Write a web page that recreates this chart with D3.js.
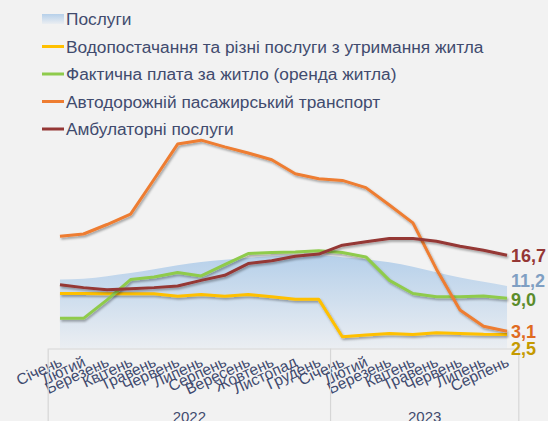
<!DOCTYPE html>
<html><head><meta charset="utf-8">
<script src="https://cdn.jsdelivr.net/npm/d3@7"></script>
<style>
html,body{margin:0;padding:0;background:#f2f2f2;}
svg{display:block;font-family:"Liberation Sans",Arial,sans-serif;}
</style></head>
<body><svg id="c" width="548" height="421"></svg>
<script>
const months = ["Січень","Лютий","Березень","Квітень","Травень","Червень","Липень","Серпень","Вересень","Жовтень","Листопад","Грудень","Січень","Лютий","Березень","Квітень","Травень","Червень","Липень","Серпень"];
const yearLabels = ["2022","2023"];
const yearStartIdx = [0,12];
const yearEndIdx = [11,19];

const seriesNames = ["Послуги","Водопостачання та різні послуги з утримання житла","Фактична плата за житло (оренда житла)","Автодорожній пасажирський транспорт","Амбулаторні послуги"];
const services   = [12.35,12.5,12.95,13.5,14.2,14.9,15.5,15.9,16.25,16.5,16.7,16.7,16.35,16.0,15.45,14.65,13.65,12.7,11.95,11.2];
const water      = [9.85,9.85,9.8,9.8,9.8,9.35,9.65,9.35,9.65,9.25,8.8,8.8,2.1,2.4,2.7,2.5,2.8,2.7,2.55,2.5];
const rent       = [5.4,5.4,8.7,12.35,12.8,13.6,13.0,15.0,17.0,17.2,17.3,17.5,17.2,16.4,12.2,9.85,9.25,9.25,9.4,9.0];
const transport  = [20.1,20.5,22.2,24.05,30.3,36.6,37.3,36.1,35.0,33.8,31.3,30.4,30.1,28.8,25.7,22.5,14.2,6.9,4.0,3.1];
const ambulatory = [11.4,10.9,10.5,10.7,10.9,11.2,12.2,13.1,15.2,15.7,16.5,16.9,18.5,19.1,19.7,19.7,19.2,18.3,17.6,16.7];
const endLabels  = ["11,2","2,5","9,0","3,1","16,7"];

const lineColors  = [null,"#ffc000","#8fcb4c","#ee7d31","#953735"];
const labelColors = ["#7f9fc3","#c59a00","#5b8c2b","#e06b1f","#953735"];
const labelShift  = [-5,14,1,0.5,0];

const svg = d3.select("#c");
const defs = svg.append("defs");
const grad = defs.append("linearGradient").attr("id","ag").attr("x1",0).attr("y1",0).attr("x2",0).attr("y2",1);
grad.append("stop").attr("offset",0).attr("stop-color","#b6d0ea");
grad.append("stop").attr("offset",1).attr("stop-color","#ebeef2");
const sh = defs.append("filter").attr("id","sh").attr("x","-10%").attr("y","-10%").attr("width","120%").attr("height","130%");
sh.append("feDropShadow").attr("dx",1.2).attr("dy",1.8).attr("stdDeviation",1).attr("flood-color","#000").attr("flood-opacity",0.35);

const x = d3.scaleBand().domain(d3.range(months.length)).range([48.2,518.8]).padding(0);
const cx = i => x(i) + x.bandwidth()/2;
const y = d3.scaleLinear().domain([0,40]).range([348.5,348.5-40*5.585]);

// area
const area = d3.area().x((d,i)=>cx(i)).y0(y(0)).y1(d=>y(d)).curve(d3.curveMonotoneX);
svg.append("path").datum(services).attr("d",area).attr("fill","url(#ag)");

// axis
const axisG = svg.append("g").attr("transform",`translate(0,${y(0)})`)
  .call(d3.axisBottom(x).tickSize(0).tickSizeOuter(0).tickFormat(i=>months[i]));
axisG.select(".domain").attr("stroke","#d6d6d6").attr("stroke-width",1.2);
axisG.selectAll(".tick text")
  .attr("fill","#3f4a6e").attr("font-size",15.5)
  .attr("text-anchor","end").attr("dy",null).attr("y",0)
  .attr("transform","translate(3,17) rotate(-25)");

// separators
const sepX = [x(yearStartIdx[0]), x(yearStartIdx[1]), x(yearEndIdx[1])+x.bandwidth()];
svg.selectAll("line.sep").data(sepX).enter().append("line")
  .attr("x1",d=>d).attr("x2",d=>d).attr("y1",y(0)).attr("y2",421)
  .attr("stroke","#d6d6d6").attr("stroke-width",1.2);
svg.selectAll("text.yr").data(yearLabels).enter().append("text")
  .attr("x",(d,k)=>(x(yearStartIdx[k])+x(yearEndIdx[k])+x.bandwidth())/2)
  .attr("y",422).attr("text-anchor","middle").attr("font-size",15).attr("fill","#3f4a6e").text(d=>d);

// lines
const line = d3.line().x((d,i)=>cx(i)).y(d=>y(d));
const lineSeries = [water, rent, transport, ambulatory];
lineSeries.forEach((s,k)=>{
  svg.append("path").datum(s).attr("d",line).attr("fill","none")
    .attr("stroke",lineColors[k+1]).attr("stroke-width",3).attr("stroke-linejoin","round")
    .attr("filter","url(#sh)");
});

// end labels
const allSeries = [services, water, rent, transport, ambulatory];
allSeries.forEach((s,k)=>{
  svg.append("text").attr("x",cx(s.length-1)+4).attr("y",y(s[s.length-1])+labelShift[k])
    .attr("dy","0.35em").attr("font-size",18).attr("font-weight","bold")
    .attr("fill",labelColors[k]).text(endLabels[k]);
});

// legend
const lg = svg.append("g");
seriesNames.forEach((n,k)=>{
  const ly = 19 + k*27.5;
  if(k===0){
    lg.append("rect").attr("x",42).attr("y",ly-5).attr("width",22).attr("height",10).attr("fill","url(#ag)");
  } else {
    lg.append("line").attr("x1",42).attr("x2",64).attr("y1",ly).attr("y2",ly)
      .attr("stroke",lineColors[k]).attr("stroke-width",3);
  }
  lg.append("text").attr("x",66).attr("y",ly).attr("dy","0.35em").attr("font-size",17.3)
    .attr("fill","#414b6e").text(n);
});
</script></body></html>
